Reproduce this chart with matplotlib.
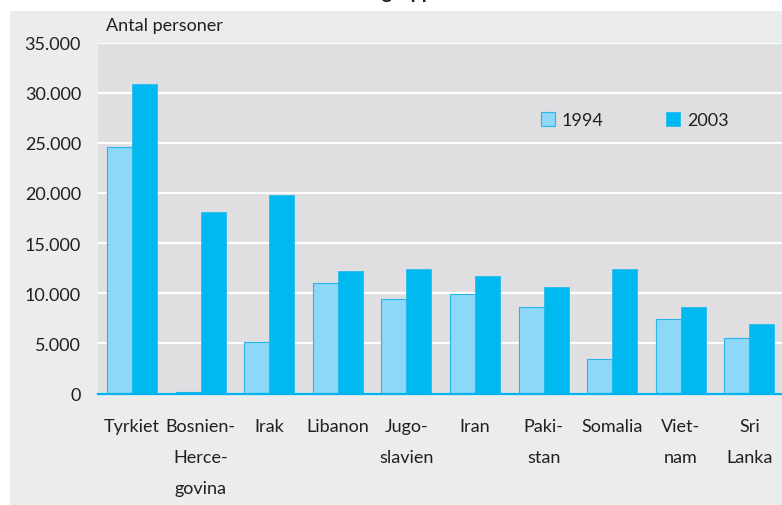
import matplotlib
matplotlib.use("Agg")
import matplotlib.pyplot as plt
from matplotlib.patches import Rectangle
import numpy as np

plt.rcParams['font.family'] = ['Lato', 'DejaVu Sans']

categories = ["Tyrkiet", "Bosnien-\nHerce-\ngovina", "Irak", "Libanon", "Jugo-\nslavien",
              "Iran", "Paki-\nstan", "Somalia", "Viet-\nnam", "Sri\nLanka"]
values_1994 = [24600, 150, 5100, 11000, 9400, 9950, 8600, 3400, 7400, 5500]
values_2003 = [30900, 18100, 19800, 12200, 12400, 11700, 10650, 12400, 8600, 6900]
series_labels = ["1994", "2003"]
yticks = [0, 5000, 10000, 15000, 20000, 25000, 30000, 35000]
ytick_labels = ["0", "5.000", "10.000", "15.000", "20.000", "25.000", "30.000", "35.000"]

light = '#8DD7F7'
dark = '#00B9F1'
edge = '#29B4EA'
txt = '#231F20'

fig = plt.figure(figsize=(7.82, 5.06), dpi=100)
fig.patches.append(Rectangle((10/782, -0.01), 1, 1.01 - 12/506, transform=fig.transFigure,
                             facecolor='#EBECEC', edgecolor='none', zorder=-5))

ax = fig.add_axes([97.7/782, (506-394.5)/506, 686/782, 351/506])
ax.set_zorder(2)
ax.set_facecolor('#DFDFE1')

x = np.arange(len(categories))
w = 0.365
ax.bar(x - w/2, values_1994, w, color=light, edgecolor=edge, linewidth=0.8,
       label=series_labels[0], zorder=3)
ax.bar(x + w/2, values_2003, w, color=dark, edgecolor='#27BBEE', linewidth=0.6,
       label=series_labels[1], zorder=3)

ax.set_xlim(-0.5, len(categories) - 0.5)
ax.set_ylim(0, 35000)
ax.set_yticks(yticks)
ax.set_yticklabels(ytick_labels)
ax.set_xticks(x)
ax.set_xticklabels(categories, linespacing=2.15)
ax.tick_params(axis='both', length=0, labelsize=13, colors=txt)
ax.tick_params(axis='y', pad=12)
ax.tick_params(axis='x', pad=18)
for lab in ax.get_xticklabels():
    lab.set_verticalalignment('top')

ax.yaxis.grid(True, color='white', linewidth=1.6)
ax.set_axisbelow(True)
for s in ax.spines.values():
    s.set_visible(False)
ax.axhline(0, color='#00B5EF', linewidth=1.6, zorder=4, clip_on=False)

leg = ax.legend(ncol=2, frameon=False, loc='center left',
                bbox_to_anchor=((540.7-97.7)/686, (394.5-121)/351),
                borderpad=0, borderaxespad=0, handlelength=0.78, handleheight=0.85,
                handletextpad=0.36, columnspacing=3.5, fontsize=13)
for t in leg.get_texts():
    t.set_color(txt)

fig.text(106/782, (506-31)/506, "Antal personer", fontsize=13, color=txt,
         ha='left', va='baseline')
fig.text(286/782, 1.002, "Indvandrergrupper", fontsize=14, fontweight='bold',
         color=txt, ha='left', va='baseline')

fig.savefig("out.png", dpi=100)
